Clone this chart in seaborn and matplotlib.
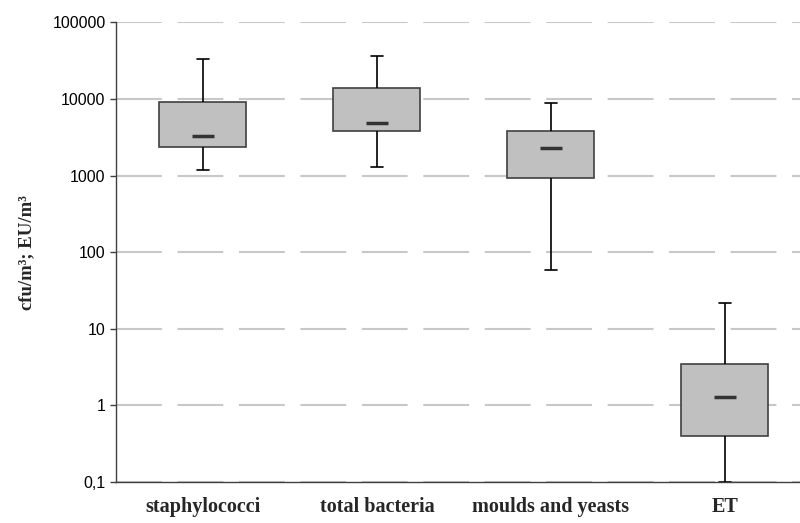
import numpy as np
import pandas as pd
import matplotlib
matplotlib.use('Agg')
import matplotlib.pyplot as plt
from matplotlib.ticker import NullLocator, FixedLocator
import seaborn as sns

# box statistics (min, q1, median, q3, max)
categories = ['staphylococci', 'total bacteria', 'moulds and yeasts', 'ET']
low = [1190, 1300, 58, 0.1]
q1 = [2350, 3800, 930, 0.40]
median = [3300, 4800, 2300, 1.3]
q3 = [9000, 13700, 3800, 3.5]
high = [33000, 36500, 8800, 22]

y_ticks = [0.1, 1, 10, 100, 1000, 10000, 100000]
y_ticklabels = ['0,1', '1', '10', '100', '1000', '10000', '100000']

# five points per group -> percentiles land exactly on q1/median/q3
rows = []
for i, cat in enumerate(categories):
    for v in (low[i], q1[i], median[i], q3[i], high[i]):
        rows.append({'group': cat, 'value': v})
df = pd.DataFrame(rows)

sns.set_style('white')
plt.rcParams['font.family'] = ['Liberation Sans', 'DejaVu Sans']

fig = plt.figure(figsize=(8, 5.23), dpi=100)
ax = fig.add_axes([0.145, 0.0784, 0.87, 0.879])

sns.boxplot(data=df, x='group', y='value', order=categories, ax=ax,
            width=0.5, whis=(0, 100), showfliers=False, saturation=1,
            color='#c0c0c0', linecolor='#404040', linewidth=1.2,
            log_scale=True, capwidths=0.07,
            whiskerprops={'color': 'black', 'linewidth': 1.2},
            capprops={'color': 'black', 'linewidth': 1.2},
            medianprops={'visible': False})

# short thick median marks
ax.scatter(range(len(categories)), median, marker='_', s=260,
           linewidths=2.5, color='#333333', zorder=5)

ax.set_yscale('log')
ax.set_ylim(0.1, 100000)
ax.set_xlim(-0.5, len(categories) - 0.5)
ax.yaxis.set_major_locator(FixedLocator(y_ticks))
ax.set_yticklabels(y_ticklabels, fontsize=11.5, color='black')
ax.yaxis.set_minor_locator(NullLocator())

ax.set_xticks(range(len(categories)))
ax.set_xticklabels(categories, fontsize=14.5, fontweight='bold',
                   family='Liberation Serif')
ax.set_xticks(np.arange(len(categories) + 1) - 0.5, minor=True)
ax.tick_params(axis='x', which='major', length=0, pad=11)
ax.tick_params(axis='x', which='minor', length=5, width=1, direction='out',
               color='#404040')
ax.tick_params(axis='y', which='major', length=4, width=1, direction='out',
               color='#404040', left=True)

ax.yaxis.grid(True, color='#c8c8c8', linestyle=(0, (22, 7.5)), linewidth=1.5)
ax.xaxis.grid(False)
ax.set_axisbelow(True)

for s in ['top', 'right']:
    ax.spines[s].set_visible(False)
for s in ['left', 'bottom']:
    ax.spines[s].set_color('#404040')
    ax.spines[s].set_linewidth(1)

ax.set_xlabel('')
ax.set_ylabel('cfu/m³; EU/m³', fontsize=13.5, fontweight='bold',
              family='Liberation Serif')
ax.yaxis.set_label_coords(-0.116, 0.5)

fig.savefig('out.png', dpi=100)
